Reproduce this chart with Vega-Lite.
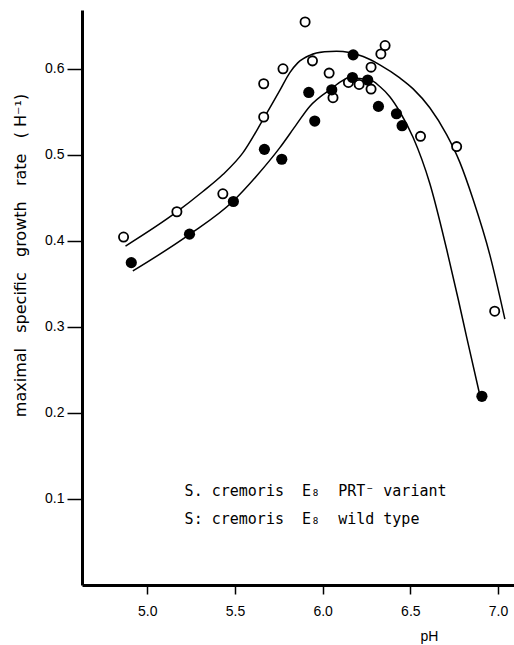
{
  "$schema": "https://vega.github.io/schema/vega-lite/v6.json",
  "width": 432,
  "height": 575,
  "autosize": {"type": "none"},
  "padding": {"left": 82, "top": 10, "right": 0, "bottom": 60},
  "background": "white",
  "config": {"view": {"stroke": null}, "font": "Liberation Sans"},
  "datasets": {
    "points": [
      {"strain": "PRT- variant", "pH": 4.865, "rate": 0.4042},
      {"strain": "PRT- variant", "pH": 5.169, "rate": 0.4336},
      {"strain": "PRT- variant", "pH": 5.431, "rate": 0.4545},
      {"strain": "PRT- variant", "pH": 5.664, "rate": 0.5437},
      {"strain": "PRT- variant", "pH": 5.664, "rate": 0.5823},
      {"strain": "PRT- variant", "pH": 5.774, "rate": 0.5997},
      {"strain": "PRT- variant", "pH": 5.900, "rate": 0.6541},
      {"strain": "PRT- variant", "pH": 5.942, "rate": 0.6089},
      {"strain": "PRT- variant", "pH": 6.037, "rate": 0.5947},
      {"strain": "PRT- variant", "pH": 6.059, "rate": 0.5661},
      {"strain": "PRT- variant", "pH": 6.147, "rate": 0.5838},
      {"strain": "PRT- variant", "pH": 6.208, "rate": 0.5815},
      {"strain": "PRT- variant", "pH": 6.276, "rate": 0.5761},
      {"strain": "PRT- variant", "pH": 6.276, "rate": 0.6016},
      {"strain": "PRT- variant", "pH": 6.332, "rate": 0.6170},
      {"strain": "PRT- variant", "pH": 6.356, "rate": 0.6267},
      {"strain": "PRT- variant", "pH": 6.558, "rate": 0.5212},
      {"strain": "PRT- variant", "pH": 6.764, "rate": 0.5093},
      {"strain": "PRT- variant", "pH": 6.981, "rate": 0.3181},
      {"strain": "wild type", "pH": 4.909, "rate": 0.3745},
      {"strain": "wild type", "pH": 5.241, "rate": 0.4076},
      {"strain": "wild type", "pH": 5.491, "rate": 0.4455},
      {"strain": "wild type", "pH": 5.668, "rate": 0.5061},
      {"strain": "wild type", "pH": 5.767, "rate": 0.4946},
      {"strain": "wild type", "pH": 5.921, "rate": 0.5722},
      {"strain": "wild type", "pH": 5.955, "rate": 0.5390},
      {"strain": "wild type", "pH": 6.052, "rate": 0.5753},
      {"strain": "wild type", "pH": 6.174, "rate": 0.6159},
      {"strain": "wild type", "pH": 6.170, "rate": 0.5896},
      {"strain": "wild type", "pH": 6.257, "rate": 0.5866},
      {"strain": "wild type", "pH": 6.318, "rate": 0.5560},
      {"strain": "wild type", "pH": 6.421, "rate": 0.5475},
      {"strain": "wild type", "pH": 6.453, "rate": 0.5336},
      {"strain": "wild type", "pH": 6.908, "rate": 0.2192}
    ],
    "curves": [
      {"strain": "PRT- variant", "pH": 4.876, "rate": 0.3937},
      {"strain": "PRT- variant", "pH": 5.166, "rate": 0.4331},
      {"strain": "PRT- variant", "pH": 5.317, "rate": 0.4571},
      {"strain": "PRT- variant", "pH": 5.431, "rate": 0.4768},
      {"strain": "PRT- variant", "pH": 5.546, "rate": 0.5023},
      {"strain": "PRT- variant", "pH": 5.660, "rate": 0.5406},
      {"strain": "PRT- variant", "pH": 5.755, "rate": 0.5742},
      {"strain": "PRT- variant", "pH": 5.812, "rate": 0.5950},
      {"strain": "PRT- variant", "pH": 5.858, "rate": 0.6066},
      {"strain": "PRT- variant", "pH": 5.926, "rate": 0.6153},
      {"strain": "PRT- variant", "pH": 6.011, "rate": 0.6194},
      {"strain": "PRT- variant", "pH": 6.079, "rate": 0.6200},
      {"strain": "PRT- variant", "pH": 6.231, "rate": 0.6139},
      {"strain": "PRT- variant", "pH": 6.326, "rate": 0.6043},
      {"strain": "PRT- variant", "pH": 6.440, "rate": 0.5891},
      {"strain": "PRT- variant", "pH": 6.516, "rate": 0.5764},
      {"strain": "PRT- variant", "pH": 6.611, "rate": 0.5544},
      {"strain": "PRT- variant", "pH": 6.707, "rate": 0.5232},
      {"strain": "PRT- variant", "pH": 6.783, "rate": 0.4907},
      {"strain": "PRT- variant", "pH": 6.858, "rate": 0.4478},
      {"strain": "PRT- variant", "pH": 6.954, "rate": 0.3830},
      {"strain": "PRT- variant", "pH": 7.039, "rate": 0.3088},
      {"strain": "wild type", "pH": 4.918, "rate": 0.3648},
      {"strain": "wild type", "pH": 5.241, "rate": 0.4073},
      {"strain": "wild type", "pH": 5.489, "rate": 0.4459},
      {"strain": "wild type", "pH": 5.622, "rate": 0.4749},
      {"strain": "wild type", "pH": 5.755, "rate": 0.5078},
      {"strain": "wild type", "pH": 5.850, "rate": 0.5348},
      {"strain": "wild type", "pH": 5.926, "rate": 0.5560},
      {"strain": "wild type", "pH": 6.041, "rate": 0.5753},
      {"strain": "wild type", "pH": 6.155, "rate": 0.5889},
      {"strain": "wild type", "pH": 6.269, "rate": 0.5869},
      {"strain": "wild type", "pH": 6.326, "rate": 0.5791},
      {"strain": "wild type", "pH": 6.383, "rate": 0.5672},
      {"strain": "wild type", "pH": 6.440, "rate": 0.5498},
      {"strain": "wild type", "pH": 6.516, "rate": 0.5198},
      {"strain": "wild type", "pH": 6.611, "rate": 0.4664},
      {"strain": "wild type", "pH": 6.707, "rate": 0.3900},
      {"strain": "wild type", "pH": 6.773, "rate": 0.3320},
      {"strain": "wild type", "pH": 6.821, "rate": 0.2880},
      {"strain": "wild type", "pH": 6.897, "rate": 0.2199}
    ],
    "legend": [
      {"pH": 5.213, "rate": 0.1095, "label": "S. cremoris\u00a0\u00a0E₈\u00a0\u00a0PRT⁻ variant"},
      {"pH": 5.213, "rate": 0.0770, "label": "S: cremoris\u00a0\u00a0E₈\u00a0\u00a0wild type"}
    ]
  },
  "encoding": {
    "x": {
      "field": "pH", "type": "quantitative",
      "scale": {"domain": [4.628, 7.091], "nice": false, "zero": false},
      "axis": {
        "values": [5, 5.5, 6, 6.5, 7], "format": ".1f", "grid": false,
        "domainColor": "black", "domainWidth": 3, "tickColor": "black", "tickWidth": 1.5, "tickSize": 9,
        "labelFontSize": 14, "labelColor": "black", "labelPadding": 10,
        "title": "pH", "titleFontSize": 14, "titleFontWeight": "normal", "titleColor": "black",
        "titleX": 347, "titleY": 51, "titleBaseline": "middle", "titleAlign": "center"
      }
    },
    "y": {
      "field": "rate", "type": "quantitative",
      "scale": {"domain": [0, 0.668], "nice": false, "zero": false},
      "axis": {
        "values": [0.1, 0.2, 0.3, 0.4, 0.5, 0.6], "format": ".1f", "grid": false,
        "domainColor": "black", "domainWidth": 3, "tickColor": "black", "tickWidth": 1.5, "tickSize": 15,
        "labelFontSize": 14, "labelColor": "black", "labelPadding": 3,
        "title": "maximal\u00a0\u00a0 specific\u00a0\u00a0 growth\u00a0\u00a0 rate\u00a0\u00a0 ( H⁻¹)", "titleFont": "DejaVu Sans", "titleFontSize": 16, "titleFontWeight": "normal", "titleColor": "black",
        "titleAngle": 270, "titleX": -62, "titleY": 245, "titleBaseline": "middle", "titleAlign": "center"
      }
    }
  },
  "layer": [
    {
      "data": {"name": "curves"},
      "mark": {"type": "line", "interpolate": "monotone", "color": "black", "strokeWidth": 1.5},
      "encoding": {"detail": {"field": "strain"}, "order": {"field": "pH"}}
    },
    {
      "data": {"name": "points"},
      "transform": [{"filter": "datum.strain === 'PRT- variant'"}],
      "mark": {"type": "point", "shape": "circle", "filled": false, "fill": "white", "fillOpacity": 1, "stroke": "black", "strokeWidth": 1.8, "size": 85, "opacity": 1}
    },
    {
      "data": {"name": "points"},
      "transform": [{"filter": "datum.strain === 'wild type'"}],
      "mark": {"type": "point", "shape": "circle", "filled": true, "color": "black", "size": 125, "opacity": 1}
    },
    {
      "data": {"name": "legend"},
      "mark": {"type": "text", "align": "left", "baseline": "middle", "font": "DejaVu Sans Mono", "fontSize": 15, "color": "black"},
      "encoding": {"text": {"field": "label"}}
    }
  ]
}
